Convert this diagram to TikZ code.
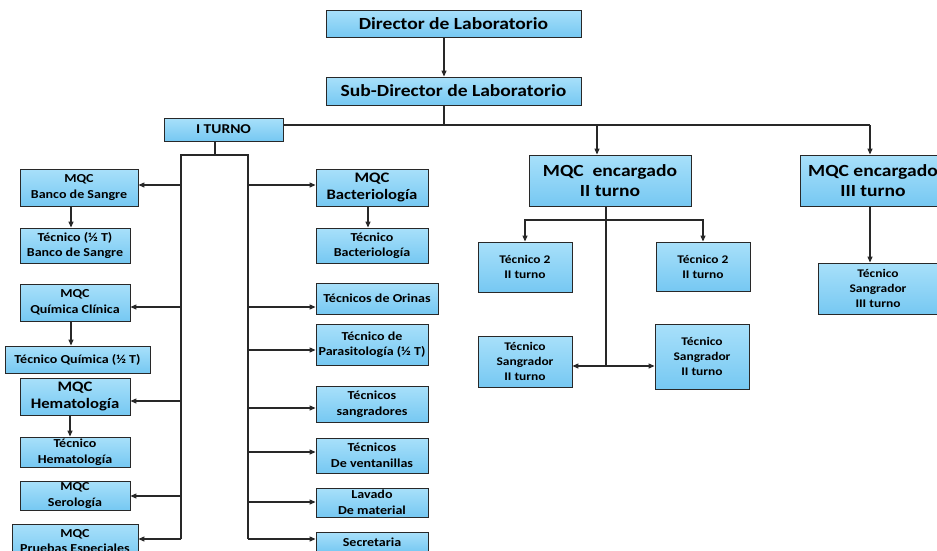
\documentclass[tikz,border=0pt]{standalone}
\usepackage{fontspec}
\setmainfont{Carlito}[FakeStretch=1.15]
\usetikzlibrary{arrows.meta}

\definecolor{boxtop}{RGB}{168,224,250}
\definecolor{boxbot}{RGB}{118,200,242}
\definecolor{lineg}{RGB}{40,40,40}

\newcommand\fTop{\fontsize{17}{20}\selectfont}
\newcommand\fBig{\fontsize{17}{20}\selectfont}
\newcommand\fMid{\fontsize{14.5}{17}\selectfont}
\newcommand\fTurno{\fontsize{13.5}{16}\selectfont}
\newcommand\fSm{\fontsize{12.2}{15.5}\selectfont}
\newcommand\fXs{\fontsize{11.7}{15}\selectfont}

\tikzset{
  box/.style={draw=lineg, line width=0.9pt, top color=boxtop, bottom color=boxbot,
    align=center, inner sep=0pt},
  ln/.style={draw=lineg, line width=1.2pt},
  arr/.style={ln, -{Triangle[length=6pt,width=5pt]}}
}

\begin{document}
\begin{tikzpicture}[x=1pt,y=-1pt]
  % Frame
  \useasboundingbox (0,0) rectangle (937,550);
  \clip (0,0) rectangle (937,550);
  \fill[white] (0,0) rectangle (937,550);

  % Top
  \node[box, minimum width=255, minimum height=27, font=\bfseries\fTop] (dir) at (453.5,23.5) {Director de Laboratorio};
  \node[box, minimum width=255, minimum height=28, font=\bfseries\fTop] (sub) at (453.5,91) {Sub-Director de Laboratorio};
  \node[box, minimum width=119, minimum height=23, font=\bfseries\fTurno] (turno1) at (223.5,129.5) {I TURNO};

  % I turno, left column
  \node[box, minimum width=118, minimum height=37, font=\bfseries\fSm] (mqcbs) at (79,187.5) {MQC\\Banco de Sangre};
  \node[box, minimum width=110, minimum height=35, font=\bfseries\fSm] (tecbs) at (75,245.5) {Técnico (½ T)\\Banco de Sangre};
  \node[box, minimum width=110, minimum height=37, font=\bfseries\fSm] (mqcqc) at (75,302.5) {MQC\\Química Clínica};
  \node[box, minimum width=145, minimum height=27, font=\bfseries\fSm] (tecqc) at (77.5,359.5) {Técnico Química (½ T)};
  \node[box, minimum width=110, minimum height=37, font=\bfseries\fMid] (mqchem) at (75,396.5) {MQC\\Hematología};
  \node[box, minimum width=110, minimum height=30, font=\bfseries\fSm] (techem) at (75,452) {Técnico\\Hematología};
  \node[box, minimum width=110, minimum height=29, font=\bfseries\fSm] (mqcser) at (75,495.5) {MQC\\Serología};
  \node[box, minimum width=126, minimum height=36, font=\bfseries\fSm] (mqcpe) at (75,542) {MQC\\Pruebas Especiales};

  % I turno, right column
  \node[box, minimum width=112, minimum height=37, font=\bfseries\fMid] (mqcbac) at (372,187.5) {MQC\\Bacteriología};
  \node[box, minimum width=112, minimum height=35, font=\bfseries\fSm] (tecbac) at (372,245.5) {Técnico\\Bacteriología};
  \node[box, minimum width=122, minimum height=31, font=\bfseries\fSm] (tecori) at (377,298.5) {Técnicos de Orinas};
  \node[box, minimum width=112, minimum height=41, font=\bfseries\fSm] (tecpar) at (372,344.5) {Técnico de\\Parasitología (½ T)};
  \node[box, minimum width=112, minimum height=36, font=\bfseries\fSm] (tecsan) at (372,404) {Técnicos\\sangradores};
  \node[box, minimum width=112, minimum height=35, font=\bfseries\fSm] (tecven) at (372,455.5) {Técnicos\\De ventanillas};
  \node[box, minimum width=112, minimum height=29, font=\bfseries\fSm] (lavado) at (372,502.5) {Lavado\\De material};
  \node[box, minimum width=112, minimum height=20, font=\bfseries\fSm] (secre) at (372,542) {Secretaria};

  % II turno
  \node[box, minimum width=162, minimum height=51, font=\bfseries\fBig] (mqc2) at (610,180.5) {MQC~~encargado\\II turno};
  \node[box, minimum width=94, minimum height=50, font=\bfseries\fXs] (tec2a) at (525,267) {Técnico 2\\II turno};
  \node[box, minimum width=94, minimum height=49, font=\bfseries\fXs] (tec2b) at (703,266.5) {Técnico 2\\II turno};
  \node[box, minimum width=94, minimum height=51, font=\bfseries\fXs] (sang2a) at (525,361.5) {Técnico\\Sangrador\\II turno};
  \node[box, minimum width=94, minimum height=65, font=\bfseries\fXs] (sang2b) at (702,356.5) {Técnico\\Sangrador\\II turno};

  % III turno
  \node[box, minimum width=146, minimum height=51, font=\bfseries\fBig] (mqc3) at (873,180.5) {MQC encargado\\III turno};
  \node[box, minimum width=120, minimum height=51, font=\bfseries\fXs] (sang3) at (878,288.5) {Técnico\\Sangrador\\III turno};

  % Main bus
  \coordinate (b0) at (444,125);
  \coordinate (b2) at (597,125);
  \coordinate (b3) at (870,125);
  \draw[arr] (dir.south -| b0) -- (sub.north -| b0);
  \draw[ln] (sub.south -| b0) -- (b0);
  \draw[ln] (turno1.east |- b0) -- (b3);
  \draw[arr] (b2) -- (b2 |- mqc2.north);
  \draw[arr] (b3) -- (b3 |- mqc3.north);
  \draw[arr] (mqc3.south -| b3) -- (sang3.north -| b3);

  % I turno bracket
  \coordinate (t0) at (215,155);
  \coordinate (lt) at (181,155);
  \coordinate (rt) at (248,155);
  \coordinate (lb) at (181,539);
  \coordinate (rb) at (248,539);
  \draw[ln] (turno1.south -| t0) -- (t0);
  \draw[ln] (lb) -- (lt) -- (rt) -- (rb);

  \foreach \n/\y in {mqcbs/185, mqcqc/307, mqchem/401, mqcser/496, mqcpe/539}{
    \coordinate (l\n) at (181,\y);
    \draw[arr] (l\n) -- (l\n -| \n.east);
  }
  \foreach \n/\y in {mqcbac/185, tecori/307, tecpar/350, tecsan/408, tecven/452, lavado/502, secre/539}{
    \coordinate (r\n) at (248,\y);
    \draw[arr] (r\n) -- (r\n -| \n.west);
  }

  % Sub-boxes
  \draw[arr] ([xshift=-8pt]mqcbs.south) -- ([xshift=-8pt]mqcbs.south |- tecbs.north);
  \draw[arr] ([xshift=-4pt]mqcqc.south) -- ([xshift=-4pt]mqcqc.south |- tecqc.north);
  \draw[arr] ([xshift=-5pt]mqchem.south) -- ([xshift=-5pt]mqchem.south |- techem.north);
  \draw[arr] ([xshift=-4pt]mqcbac.south) -- ([xshift=-4pt]mqcbac.south |- tecbac.north);

  % II turno branches
  \coordinate (br) at (606,220);
  \coordinate (m2) at (606,366);
  \draw[ln] (mqc2.south -| br) -- (m2);
  \draw[arr] (br) -| (tec2a.north);
  \draw[arr] (br) -| (tec2b.north);
  \draw[arr] (m2) -- (m2 -| sang2a.east);
  \draw[arr] (m2) -- (m2 -| sang2b.west);
\end{tikzpicture}
\end{document}
